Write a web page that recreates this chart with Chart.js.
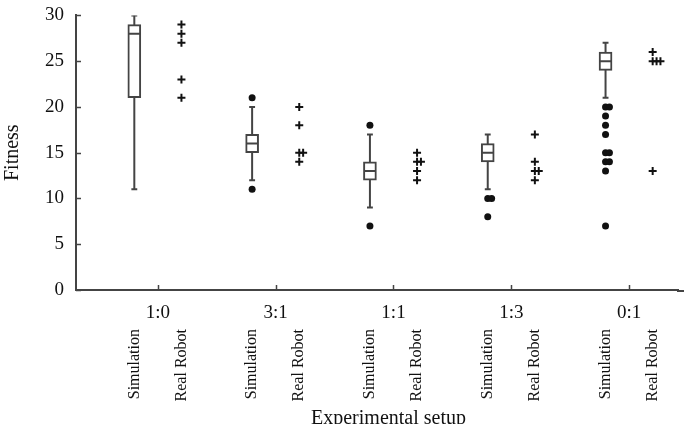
<!DOCTYPE html>
<html>
<head>
<meta charset="utf-8">
<script src="https://cdn.jsdelivr.net/npm/chart.js@4.4.1/dist/chart.umd.min.js"></script>
<style>
  html, body { margin: 0; padding: 0; background: #fff; }
  #wrap { width: 684px; height: 424px; }
</style>
</head>
<body>
<div id="wrap"><canvas id="chart" width="684" height="424"></canvas></div>
<script>
// Experimental setups (ratio of simulation to real robot trials)
const categories = ['1:0', '3:1', '1:1', '1:3', '0:1'];

// Simulation box plot summaries
const simMin    = [11, 12,  9, 11, 21];
const simQ1     = [21, 15, 12, 14, 24];
const simMedian = [28, 16, 13, 15, 25];
const simQ3     = [29, 17, 14, 16, 26];
const simMax    = [30, 20, 17, 17, 27];

// Simulation outliers (dots)
const simOutliers = [
  [],
  [21, 11],
  [18, 7],
  [10, 10, 8],
  [20, 20, 19, 18, 17, 15, 15, 14, 14, 13, 7],
];

// Real robot results (crosses)
const realRobot = [
  [29, 28, 27, 23, 21],
  [20, 18, 15, 15, 14],
  [15, 14, 14, 13, 12],
  [17, 14, 13, 13, 12],
  [26, 25, 25, 25, 13],
];

const yTicks = [0, 5, 10, 15, 20, 25, 30];
const xTitle = 'Experimental setup';

const SERIF = '"Liberation Serif", "Times New Roman", serif';
const INK = '#111';
const LINE = '#444';
const SIDE = 0.2;      // offset of sim / real columns from the category tick
const DUP = 0.033;     // spread for repeated values
const CAP = 0.025;     // half width of whisker caps
const HALF_BOX = 0.05; // half width of the median line

const simX = i => i + 1 - SIDE;
const realX = i => i + 1 + SIDE;

// spread repeated values sideways so they stay visible
function spread(values, x) {
  const seen = {};
  return values.map(v => {
    const k = seen[v] || 0;
    seen[v] = k + 1;
    return { x: x + k * DUP, y: v };
  });
}

const whiskers = [];
const caps = [];
const medians = [];
categories.forEach((c, i) => {
  const x = simX(i);
  whiskers.push({ x: x, y: simMin[i] }, { x: x, y: simMax[i] }, { x: x, y: null });
  caps.push({ x: x - CAP, y: simMin[i] }, { x: x + CAP, y: simMin[i] }, { x: x, y: null });
  caps.push({ x: x - CAP, y: simMax[i] }, { x: x + CAP, y: simMax[i] }, { x: x, y: null });
  medians.push({ x: x - HALF_BOX, y: simMedian[i] }, { x: x + HALF_BOX, y: simMedian[i] }, { x: x, y: null });
});

const boxes = categories.map((c, i) => ({ x: simX(i), y: [simQ1[i], simQ3[i]] }));
const dots = simOutliers.flatMap((vals, i) => spread(vals, simX(i)));
const crosses = realRobot.flatMap((vals, i) => spread(vals, realX(i)));

// inward tick marks, rotated Simulation / Real Robot labels and the axis title
const extras = {
  id: 'extras',
  afterDraw(chart) {
    const { ctx, scales: { x, y } } = chart;
    ctx.save();
    ctx.strokeStyle = LINE;
    ctx.lineWidth = 2;
    ctx.beginPath();
    // axis line runs on to the right edge
    ctx.moveTo(x.right - 1, y.bottom + 1);
    ctx.lineTo(chart.width, y.bottom + 1);
    ctx.stroke();

    ctx.lineWidth = 1.5;
    ctx.beginPath();
    yTicks.forEach(v => {
      const py = Math.round(y.getPixelForValue(v)) + 0.5;
      ctx.moveTo(x.left, py);
      ctx.lineTo(x.left + 5, py);
    });
    categories.forEach((c, i) => {
      const px = Math.round(x.getPixelForValue(i + 1)) + 0.5;
      ctx.moveTo(px, y.bottom);
      ctx.lineTo(px, y.bottom - 5);
    });
    ctx.stroke();

    ctx.fillStyle = INK;
    ctx.font = '16px ' + SERIF;
    ctx.textAlign = 'right';
    ctx.textBaseline = 'middle';
    const top = y.bottom + 39;
    categories.forEach((c, i) => {
      [['Simulation', simX(i)], ['Real Robot', realX(i)]].forEach(([t, v]) => {
        ctx.save();
        ctx.translate(x.getPixelForValue(v), top);
        ctx.rotate(-Math.PI / 2);
        ctx.fillText(t, 0, 0);
        ctx.restore();
      });
    });

    ctx.font = '20px ' + SERIF;
    ctx.textAlign = 'center';
    ctx.textBaseline = 'alphabetic';
    ctx.fillText(xTitle, x.getPixelForValue(3) - 5, chart.height);
    ctx.restore();
  }
};

new Chart(document.getElementById('chart'), {
  type: 'scatter',
  data: {
    datasets: [
      {
        type: 'scatter', data: whiskers, showLine: true, spanGaps: false,
        borderColor: LINE, borderWidth: 2, pointRadius: 0, order: 4
      },
      {
        type: 'scatter', data: caps, showLine: true, spanGaps: false,
        borderColor: LINE, borderWidth: 2, pointRadius: 0, order: 3
      },
      {
        type: 'bar', data: boxes, barThickness: 13, backgroundColor: '#fff',
        borderColor: LINE, borderWidth: 2, borderSkipped: false, order: 2
      },
      {
        type: 'scatter', data: medians, showLine: true, spanGaps: false,
        borderColor: LINE, borderWidth: 2, pointRadius: 0, order: 1
      },
      {
        type: 'scatter', data: dots, pointStyle: 'circle', pointRadius: 3.5,
        backgroundColor: INK, borderColor: INK, borderWidth: 0, order: 0
      },
      {
        type: 'scatter', data: crosses, pointStyle: 'cross', pointRadius: 4,
        borderColor: INK, borderWidth: 2, order: 0
      }
    ]
  },
  options: {
    responsive: false,
    animation: false,
    events: [],
    layout: { padding: { top: 10, right: 0, bottom: 0, left: 0 } },
    plugins: { legend: { display: false }, tooltip: { enabled: false } },
    scales: {
      x: {
        type: 'linear',
        min: 0.305,
        max: 5.415,
        offset: false,
        grid: { display: false },
        border: { display: true, color: LINE, width: 2 },
        afterBuildTicks: scale => { scale.ticks = categories.map((c, i) => ({ value: i + 1 })); },
        afterFit: scale => { scale.height = 134; },
        ticks: {
          color: INK,
          padding: 4,
          maxRotation: 0,
          font: { family: SERIF, size: 19 },
          callback: v => categories[v - 1]
        }
      },
      y: {
        type: 'linear',
        min: 0,
        max: 30,
        grid: { display: false },
        border: { display: true, color: LINE, width: 2 },
        afterBuildTicks: scale => { scale.ticks = yTicks.map(v => ({ value: v })); },
        afterFit: scale => { scale.width = 76; },
        ticks: {
          color: INK,
          padding: 4,
          font: { family: SERIF, size: 19 }
        },
        title: {
          display: true,
          text: 'Fitness',
          color: INK,
          padding: { top: 1, bottom: 0 },
          font: { family: SERIF, size: 20 }
        }
      }
    }
  },
  plugins: [extras]
});
</script>
</body>
</html>
